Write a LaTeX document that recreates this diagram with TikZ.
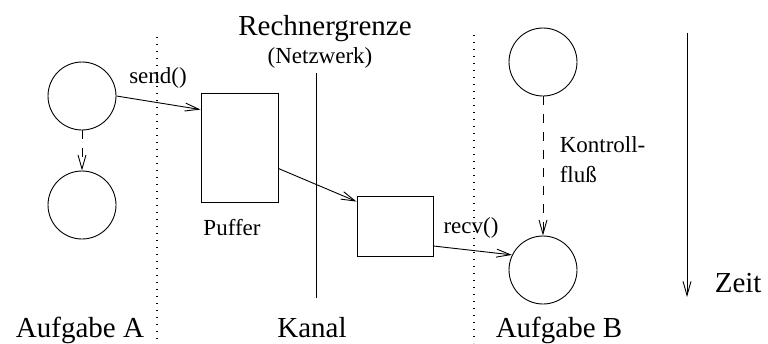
\documentclass[tikz,border=0pt]{standalone}
\usepackage{fontspec}
\setmainfont{Liberation Serif}
\usetikzlibrary{calc,arrows.meta}

\begin{document}
\begin{tikzpicture}[x=1pt,y=-1pt,line width=0.9pt,
	task/.style={draw,circle,minimum size=68pt,inner sep=0pt},
	buf/.style={draw,inner sep=0pt},
	flow/.style={-{Straight Barb[length=14pt,width=8pt]}},
	ctrl/.style={flow,dash pattern=on 9pt off 9pt},
	border/.style={line width=1.2pt,dash pattern=on 1.2pt off 5.8pt},
	big/.style={font=\fontsize{29}{35}\selectfont,anchor=base},
	small/.style={font=\fontsize{23}{30}\selectfont,anchor=base}]
	\useasboundingbox (0,0) rectangle (768,343);
	% Aufgaben
	\node [task] (aufgA1) at (82,96) {};
	\node [task] (aufgA2) at (82,205) {};
	\node [task] (aufgB1) at (543,62) {};
	\node [task] (aufgB2) at (543,270) {};
	% Puffer
	\node [buf,minimum width=77pt,minimum height=109pt] (puffer) at (239.5,147.5) {};
	\node [buf,minimum width=76pt,minimum height=60pt] (kanalbuf) at (395,226) {};
	% Grenzen
	\coordinate (grenzeA1) at (157,37);
	\coordinate (grenzeA2) at (157,343);
	\coordinate (grenzeB1) at (474,35);
	\coordinate (grenzeB2) at (474,343);
	\coordinate (kanal1) at (316,73);
	\coordinate (kanal2) at (316,298);
	\coordinate (zeit1) at (687,33);
	\coordinate (zeit2) at (687,297);
	\draw [border] (grenzeA1) -- (grenzeA2);
	\draw [border] (grenzeB1) -- (grenzeB2);
	\draw (kanal1) -- (kanal2);
	\draw [flow] (zeit1) -- (zeit2);
	% Pfeile
	\draw [ctrl] (aufgA1) -- (aufgA2);
	\draw [ctrl] (aufgB1) -- (aufgB2);
	\draw [flow] (aufgA1.east) -- ([yshift=-17pt]puffer.north west);
	\draw [flow] ([yshift=-21pt]puffer.east) -- ([yshift=-6pt]kanalbuf.north west);
	\draw [flow] ([yshift=-20pt]kanalbuf.east) -- (aufgB2.154);
	% Texte
	\node [big] (rechner) at (325,35) {Rechnergrenze};
	\node [small] (netz) at (320,63) {(Netzwerk)};
	\node [small] (send) at (158,83) {send()};
	\node [small] (puflabel) at (232,235) {Puffer};
	\node [small] (recv) at (471,233) {recv()};
	\node [small,anchor=base west] (kontroll) at (556,152) {Kontroll-};
	\node [small,anchor=base west] (fluss) at (556,182) {flu\ss};
	\node [big,anchor=base west] (zeit) at (711,292) {Zeit};
	\node [big] (aufgA) at (80,337) {Aufgabe A};
	\node [big] (kanal) at (312,337) {Kanal};
	\node [big] (aufgB) at (559,337) {Aufgabe B};
\end{tikzpicture}
\end{document}
